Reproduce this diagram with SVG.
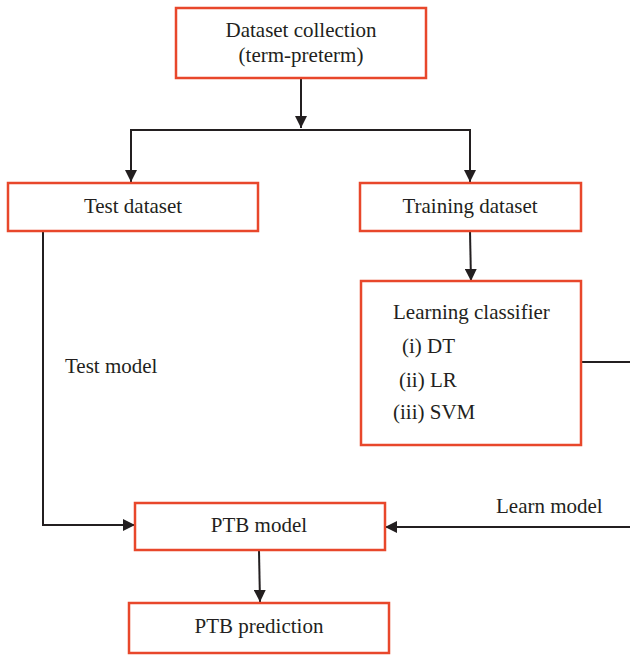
<svg xmlns="http://www.w3.org/2000/svg" width="630" height="656" viewBox="0 0 630 656">
<style>
.box{fill:#fff;stroke:#e8472b;stroke-width:2.5}
.t{font-family:"Liberation Serif","Times New Roman",serif;font-size:21px;fill:#231f20}
.c{text-anchor:middle}
.ln{fill:none;stroke:#231f20;stroke-width:2}
</style>
<defs>
<marker id="ah" viewBox="0 0 10 10" refX="10" refY="5" markerWidth="6" markerHeight="6" orient="auto" markerUnits="strokeWidth">
<path d="M0,0 L10,5 L0,10 z" fill="#231f20"/>
</marker>
</defs>
<rect width="630" height="656" fill="#fff"/>
<g id="connectors">
<line class="ln" x1="301" y1="79" x2="301" y2="128" marker-end="url(#ah)"/>
<polyline class="ln" points="131,182 131,130 470,130 470,182" marker-end="url(#ah)"/>
<line class="ln" x1="131" y1="130" x2="131" y2="182" marker-end="url(#ah)"/>
<line class="ln" x1="470" y1="231" x2="471" y2="281" marker-end="url(#ah)"/>
<polyline class="ln" points="43,231 43,525 135,525" marker-end="url(#ah)"/>
<line class="ln" x1="581" y1="362" x2="630" y2="362"/>
<line class="ln" x1="630" y1="527" x2="385" y2="527" marker-end="url(#ah)"/>
<line class="ln" x1="259" y1="551" x2="260" y2="602" marker-end="url(#ah)"/>
<text class="t" x="65" y="373">Test model</text>
<text class="t" x="496" y="513">Learn model</text>
</g>
<g id="dataset">
<rect class="box" x="176" y="8" width="250" height="70"/>
<text class="t c" x="301" y="37">Dataset collection</text>
<text class="t c" x="301" y="62">(term-preterm)</text>
</g>
<g id="test">
<rect class="box" x="8" y="183" width="250" height="48"/>
<text class="t c" x="133" y="213">Test dataset</text>
</g>
<g id="training">
<rect class="box" x="360" y="183" width="221" height="48"/>
<text class="t c" x="470" y="213">Training dataset</text>
</g>
<g id="classifier">
<rect class="box" x="361" y="281" width="220" height="164"/>
<text class="t" x="393" y="319">Learning classifier</text>
<text class="t" x="402" y="353">(i) DT</text>
<text class="t" x="399" y="387">(ii) LR</text>
<text class="t" x="393" y="419">(iii) SVM</text>
</g>
<g id="ptbmodel">
<rect class="box" x="135" y="503" width="250" height="47"/>
<text class="t c" x="259" y="532">PTB model</text>
</g>
<g id="ptbprediction">
<rect class="box" x="129" y="603" width="260" height="50"/>
<text class="t c" x="259" y="633">PTB prediction</text>
</g>
</svg>
